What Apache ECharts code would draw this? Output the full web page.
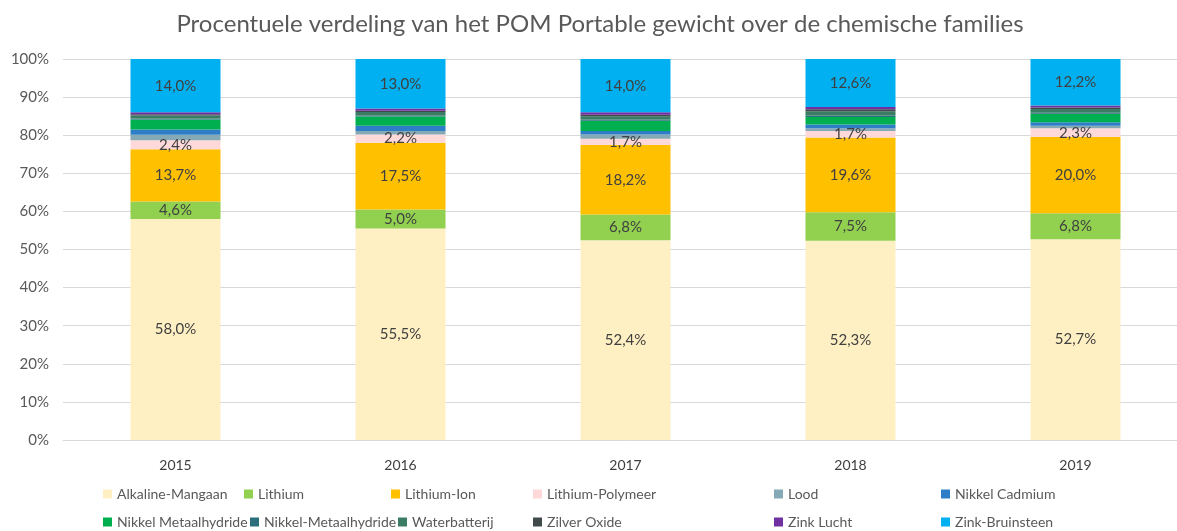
<!DOCTYPE html>
<html>
<head>
<meta charset="utf-8">
<script src="https://cdn.jsdelivr.net/npm/echarts@6/dist/echarts.min.js"></script>
<style>
  html, body { margin: 0; padding: 0; background: #fff; overflow: hidden; }
  #main { width: 1200px; height: 531px; }
</style>
</head>
<body>
<div id="main"></div>
<script>
const years = ['2015', '2016', '2017', '2018', '2019'];

const alkalineMangaan = [58.0, 55.5, 52.4, 52.3, 52.7];
const lithium = [4.6, 5.0, 6.8, 7.5, 6.8];
const lithiumIon = [13.7, 17.5, 18.2, 19.6, 20.0];
const lithiumPolymeer = [2.4, 2.2, 1.7, 1.7, 2.3];
const lood = [1.4, 0.9, 1.1, 0.7, 0.7];
const nikkelCadmium = [1.4, 1.4, 0.9, 1.0, 0.9];
const nikkelMetaalhydride = [2.6, 2.4, 2.7, 2.0, 2.2];
const nikkelMetaalhydride2 = [0.3, 0.3, 0.3, 0.4, 0.3];
const waterbatterij = [0.8, 0.9, 0.9, 1.1, 1.0];
const zilverOxide = [0.3, 0.3, 0.4, 0.5, 0.4];
const zinkLucht = [0.5, 0.6, 0.6, 0.6, 0.5];
const zinkBruinsteen = [14.0, 13.0, 14.0, 12.6, 12.2];

const yTicks = [0, 10, 20, 30, 40, 50, 60, 70, 80, 90, 100];

const seriesDefs = [
  { name: 'Alkaline-Mangaan', data: alkalineMangaan, color: '#FFF0C4', label: true },
  { name: 'Lithium', data: lithium, color: '#92D050', label: true },
  { name: 'Lithium-Ion', data: lithiumIon, color: '#FFC000', label: true },
  { name: 'Lithium-Polymeer', data: lithiumPolymeer, color: '#FFD9DA', label: true },
  { name: 'Lood', data: lood, color: '#85AAB5' },
  { name: 'Nikkel Cadmium', data: nikkelCadmium, color: '#2E7EC7' },
  { name: 'Nikkel Metaalhydride', data: nikkelMetaalhydride, color: '#00B050' },
  { name: 'Nikkel-Metaalhydride', data: nikkelMetaalhydride2, color: '#2B6E7C' },
  { name: 'Waterbatterij', data: waterbatterij, color: '#3A7C64' },
  { name: 'Zilver Oxide', data: zilverOxide, color: '#404A4B' },
  { name: 'Zink Lucht', data: zinkLucht, color: '#7030A0' },
  { name: 'Zink-Bruinsteen', data: zinkBruinsteen, color: '#00B0F0', label: true },
];

// legend item spots (Excel-style layout, 2 rows x 6)
const legendSpots = [
  [103, 487], [244, 487], [391, 487], [533, 487], [774, 487], [941, 487],
  [103, 515], [250, 515], [398, 515], [533, 515], [774, 515], [941, 515],
];

const font = 'Lato, "Open Sans", sans-serif';
const myChart = echarts.init(document.getElementById('main'));

const fmt = (v) => v.toFixed(1).replace('.', ',') + '%';

myChart.setOption({
  animation: false,
  textStyle: { fontFamily: font },
  title: {
    text: 'Procentuele verdeling van het POM Portable gewicht over de chemische families',
    left: 'center',
    top: 7,
    textStyle: { fontSize: 24, fontWeight: 'normal', color: '#595959', fontFamily: font },
  },
  legend: seriesDefs.map((s, i) => ({
    data: [s.name],
    left: legendSpots[i][0],
    top: legendSpots[i][1],
    icon: 'rect',
    itemWidth: 9,
    itemHeight: 9,
    itemGap: 4,
    padding: 0,
    textStyle: { fontSize: 14, color: '#595959', fontFamily: font },
  })),
  grid: { left: 63, top: 59, width: 1125, bottom: 91 },
  xAxis: {
    type: 'category',
    data: years,
    axisLine: { lineStyle: { color: '#D9D9D9' } },
    axisTick: { show: false },
    axisLabel: { fontSize: 14, color: '#404040', margin: 18 },
  },
  yAxis: {
    type: 'value',
    min: 0,
    max: 100,
    interval: 10,
    axisLabel: {
      fontSize: 15,
      color: '#595959',
      margin: 14,
      formatter: (v) => (yTicks.includes(v) ? v + '%' : ''),
    },
    splitLine: { lineStyle: { color: '#D9D9D9' } },
  },
  series: seriesDefs.map((s) => ({
    name: s.name,
    type: 'bar',
    stack: 'total',
    barWidth: '40%',
    data: s.data,
    itemStyle: { color: s.color },
    label: {
      show: !!s.label,
      position: 'inside',
      fontSize: 15,
      color: '#404040',
      fontFamily: font,
      formatter: (p) => fmt(p.value),
    },
  })),
});
</script>
</body>
</html>
